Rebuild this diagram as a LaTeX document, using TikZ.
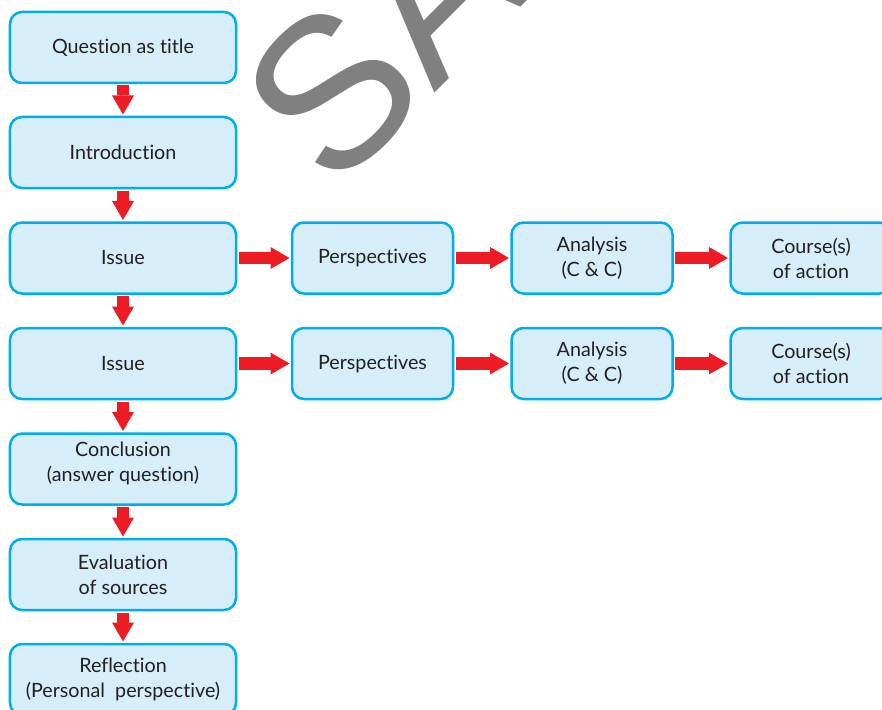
\documentclass[tikz,border=0pt]{standalone}
\usepackage{fontspec}
\setmainfont{Lato}[Ligatures=NoCommon]
\newfontfamily\markfont{Liberation Sans}
\usetikzlibrary{arrows.meta}
\definecolor{boxfill}{RGB}{214,237,250}
\definecolor{boxline}{RGB}{0,174,239}
\definecolor{flowred}{RGB}{237,28,36}
\definecolor{labeltext}{RGB}{35,31,32}
\definecolor{markgray}{RGB}{128,128,128}
\begin{document}
\begin{tikzpicture}[x=1bp,y=-1bp,
  stage/.style={draw=boxline, line width=2.5bp, fill=boxfill, rounded corners=12bp,
    minimum height=71bp, inner sep=0pt, align=center, text=labeltext,
    font=\fontsize{19.8}{25}\selectfont},
  wide/.style={stage, minimum width=226bp},
  narrow/.style={stage, minimum width=161bp},
  flow/.style={draw=flowred, line width=12.5bp,
    -{Triangle[length=19bp,width=22bp,line width=0pt]},
    shorten <=1.25bp, shorten >=1.25bp}
]
\path[use as bounding box, clip] (0,0) rectangle (882,710);

% main column
\node[wide] (q)     at (123,47.5)  {Question as title};
\node[wide] (intro) at (123,152.5) {Introduction};
\node[wide] (iss1)  at (123,258)   {Issue};
\node[wide] (iss2)  at (123,363.5) {Issue};
\node[wide, text depth=15bp] (concl) at (123,469) {Conclusion\\(answer question)};
\node[wide] (eval)  at (123,574.5) {Evaluation\\of sources};
\node[wide] (refl)  at (123,679.5) {Reflection\\(Personal\ \ perspective)};

% branches for each issue
\node[narrow] (p1) at (372.5,258)   {Perspectives};
\node[narrow] (a1) at (592,258)     {Analysis\\(C \& C)};
\node[narrow] (c1) at (811,258)     {Course(s)\\of action};
\node[narrow] (p2) at (372.5,363.5) {Perspectives};
\node[narrow] (a2) at (592,363.5)   {Analysis\\(C \& C)};
\node[narrow] (c2) at (811,363.5)   {Course(s)\\of action};

% vertical flow
\draw[flow] (q.south) -- (intro.north);
\draw[flow] (intro.south) -- (iss1.north);
\draw[flow] (iss1.south) -- (iss2.north);
\draw[flow] (iss2.south) -- (concl.north);
\draw[flow] (concl.south) -- (eval.north);
\draw[flow] (eval.south) -- (refl.north);

% horizontal flow
\draw[flow] (iss1.east) -- (p1.west);
\draw[flow] (p1.east) -- (a1.west);
\draw[flow] (a1.east) -- (c1.west);
\draw[flow] (iss2.east) -- (p2.west);
\draw[flow] (p2.east) -- (a2.west);
\draw[flow] (a2.east) -- (c2.west);

% watermark
\node[rotate=45, anchor=base west, inner sep=0pt, text=markgray,
  font=\markfont\fontsize{215}{215}\selectfont] (mark) at (333,194.5) {SAMPLE};
\end{tikzpicture}
\end{document}
